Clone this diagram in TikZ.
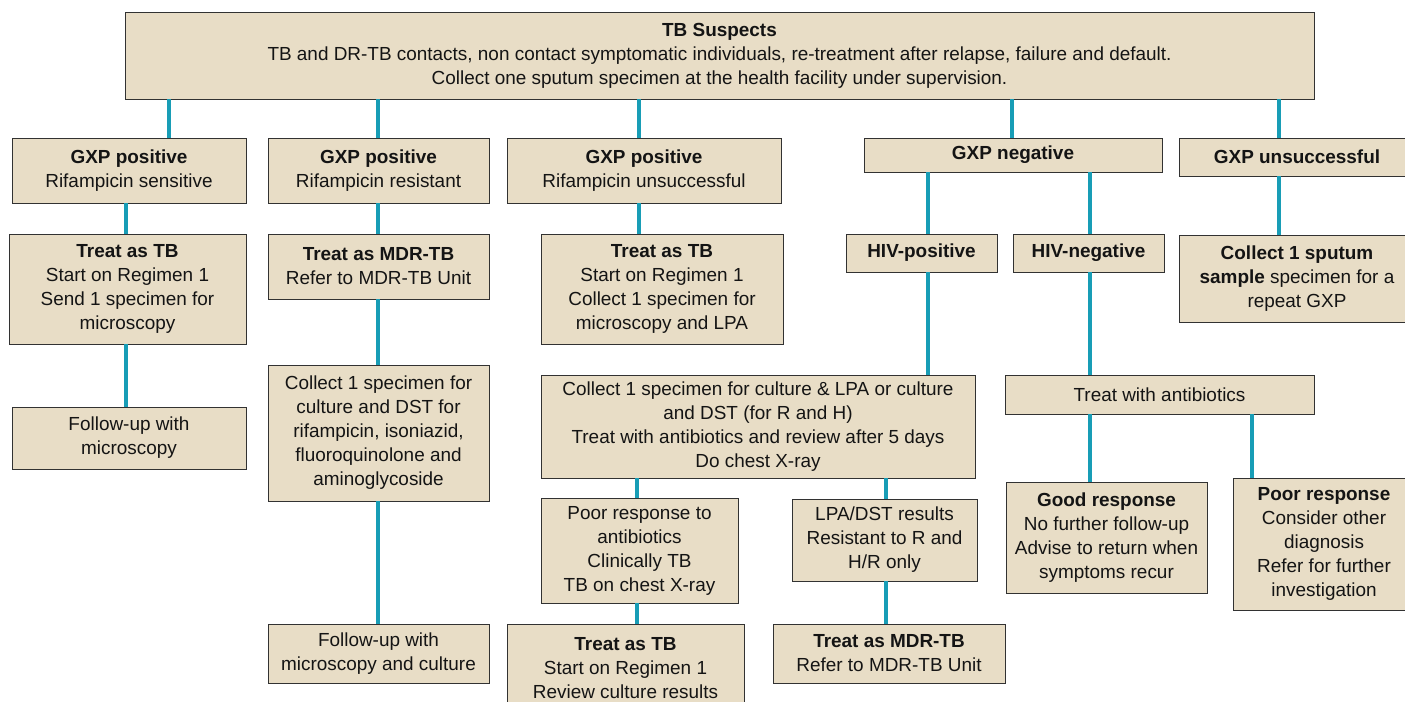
\documentclass[tikz,border=0pt]{standalone}
\usepackage{fontspec}
\setmainfont{Liberation Sans}
\definecolor{boxfill}{RGB}{232,221,198}
\definecolor{boxline}{RGB}{50,50,50}
\definecolor{conncol}{RGB}{24,157,182}
\definecolor{txt}{RGB}{20,20,20}
\tikzset{
  box/.style={draw=boxline, fill=boxfill, line width=0.65pt, inner sep=0pt, align=center,
    text=txt, font=\fontsize{14.2}{18}\selectfont},
  conn/.style={draw=conncol, line width=2.4pt}
}
\newcommand\bx[6]{%
  \pgfmathsetmacro\bw{(#4-#2)*0.75}%
  \pgfmathsetmacro\bh{(#5-#3)*0.75}%
  \node[box, minimum width=\bw pt, minimum height=\bh pt] (#1) at ({(#2+#4)/2},{(#3+#5)/2}) {#6};}
\begin{document}
\begin{tikzpicture}[x=0.75pt,y=-0.75pt]
\useasboundingbox (0,0) rectangle (1405,701);
% top
\bx{top}{125}{12}{1314}{99}{\textbf{TB Suspects}\\TB and DR-TB contacts, non contact symptomatic individuals, re-treatment after relapse, failure and default.\\Collect one sputum specimen at the health facility under supervision.}
% row 2
\bx{A1}{12}{138}{246}{203}{\textbf{GXP positive}\\Rifampicin sensitive}
\bx{A2}{268}{138}{489}{203}{\textbf{GXP positive}\\Rifampicin resistant}
\bx{A3}{507}{138}{781}{203}{\textbf{GXP positive}\\Rifampicin unsuccessful}
\bx{A4}{864}{138}{1162}{172}{\textbf{GXP negative}}
\bx{A5}{1179}{138}{1415}{176}{\textbf{GXP unsuccessful}}
% row 3
\bx{B1}{9}{234}{246}{344}{\textbf{Treat as TB}\\Start on Regimen 1\\Send 1 specimen for\\microscopy}
\bx{B2}{268}{234}{489}{299}{\textbf{Treat as MDR-TB}\\Refer to MDR-TB Unit}
\bx{B3}{541}{234}{783}{344}{\textbf{Treat as TB}\\Start on Regimen 1\\Collect 1 specimen for\\microscopy and LPA}
\bx{HIVp}{846}{234}{997}{272}{\textbf{HIV-positive}}
\bx{HIVn}{1013}{234}{1164}{272}{\textbf{HIV-negative}}
\bx{B5}{1179}{235}{1415}{322}{\textbf{Collect 1 sputum}\\\textbf{sample} specimen for a\\repeat GXP}
% row 4
\bx{F1}{12}{407}{246}{469}{Follow-up with\\microscopy}
\bx{C2}{268}{365}{489}{501}{Collect 1 specimen for\\culture and DST for\\rifampicin, isoniazid,\\fluoroquinolone and\\aminoglycoside}
\bx{mid}{541}{375}{975}{478}{Collect 1 specimen for culture \& LPA or culture\\and DST (for R and H)\\Treat with antibiotics and review after 5 days\\Do chest X-ray}
\bx{antib}{1005}{375}{1314}{414}{Treat with antibiotics}
% row 5
\bx{poor1}{541}{498}{738}{603}{Poor response to\\antibiotics\\Clinically TB\\TB on chest X-ray}
\bx{lpa}{792}{499}{977}{581}{LPA/DST results\\Resistant to R and\\H/R only}
\bx{good}{1006}{482}{1207}{593}{\textbf{Good response}\\No further follow-up\\Advise to return when\\symptoms recur}
\bx{poor2}{1233}{478}{1415}{610}{\textbf{Poor response}\\Consider other\\diagnosis\\Refer for further\\investigation}
% row 6
\bx{F2}{268}{624}{489}{683}{Follow-up with\\microscopy and culture}
\bx{T2}{507}{624}{744}{712}{\textbf{Treat as TB}\\Start on Regimen 1\\Review culture results}
\bx{M2}{773}{624}{1005}{683}{\textbf{Treat as MDR-TB}\\Refer to MDR-TB Unit}
% connector x positions
\coordinate (x126) at (126,0);
\coordinate (x169) at (169,0);
\coordinate (x378) at (378,0);
\coordinate (x637) at (637,0);
\coordinate (x639) at (639,0);
\coordinate (x886) at (886,0);
\coordinate (x928) at (928,0);
\coordinate (x1012) at (1012,0);
\coordinate (x1090) at (1090,0);
\coordinate (x1252) at (1252,0);
\coordinate (x1279) at (1279,0);
% connectors
\draw[conn] (top.south -| x169) -- (A1.north -| x169);
\draw[conn] (top.south -| x378) -- (A2.north -| x378);
\draw[conn] (top.south -| x639) -- (A3.north -| x639);
\draw[conn] (top.south -| x1012) -- (A4.north -| x1012);
\draw[conn] (top.south -| x1279) -- (A5.north -| x1279);
\draw[conn] (A1.south -| x126) -- (B1.north -| x126);
\draw[conn] (B1.south -| x126) -- (F1.north -| x126);
\draw[conn] (A2.south -| x378) -- (B2.north -| x378);
\draw[conn] (B2.south -| x378) -- (C2.north -| x378);
\draw[conn] (C2.south -| x378) -- (F2.north -| x378);
\draw[conn] (A3.south -| x639) -- (B3.north -| x639);
\draw[conn] (A4.south -| x928) -- (HIVp.north -| x928);
\draw[conn] (A4.south -| x1090) -- (HIVn.north -| x1090);
\draw[conn] (HIVp.south -| x928) -- (mid.north -| x928);
\draw[conn] (HIVn.south -| x1090) -- (antib.north -| x1090);
\draw[conn] (A5.south -| x1279) -- (B5.north -| x1279);
\draw[conn] (antib.south -| x1090) -- (good.north -| x1090);
\draw[conn] (antib.south -| x1252) -- (poor2.north -| x1252);
\draw[conn] (mid.south -| x637) -- (poor1.north -| x637);
\draw[conn] (poor1.south -| x637) -- (T2.north -| x637);
\draw[conn] (mid.south -| x886) -- (lpa.north -| x886);
\draw[conn] (lpa.south -| x886) -- (M2.north -| x886);
\end{tikzpicture}
\end{document}
